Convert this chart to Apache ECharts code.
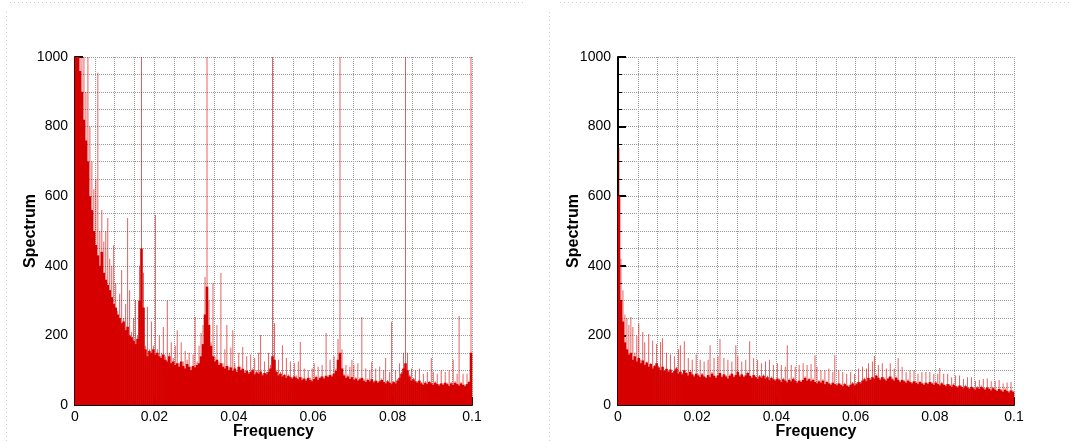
<!DOCTYPE html>
<html>
<head>
<meta charset="utf-8">
<title>Spectrum</title>
<script src="https://cdn.jsdelivr.net/npm/echarts@6/dist/echarts.min.js"></script>
<style>
  html, body { margin: 0; padding: 0; background: #fff; }
  #main { width: 1071px; height: 441px; }
</style>
</head>
<body>
<div id="main"></div>
<script>
// bin width of the spectrum (frequency step between bars)
var freqStep = 0.0005;

// y / x tick values
var yTicks = [0, 200, 400, 600, 800, 1000];
var xTicks = [0, 0.02, 0.04, 0.06, 0.08, 0.1];

// left panel: solid part of the spectrum, one value per bin
var leftBase = [
  1000,1000,960,900,820,760,700,600,560,500,460,430,400,440,380,360,345,330,310,290,
  280,260,250,235,240,215,225,200,195,185,175,190,300,450,280,160,140,155,150,160,
  145,150,140,135,145,130,125,140,120,125,115,120,110,125,112,105,118,110,100,112,
  108,115,120,140,175,260,340,230,170,140,125,130,115,120,110,105,112,100,108,98,
  105,95,110,100,104,92,98,90,95,100,88,94,90,96,85,92,88,95,105,140,
  130,95,85,90,82,86,78,84,80,76,82,78,74,80,72,76,70,78,72,68,
  75,80,72,78,82,76,84,80,86,82,90,98,130,150,105,85,78,82,75,80,
  72,76,70,74,78,70,66,72,68,74,65,70,64,68,72,66,62,68,64,60,
  66,62,70,78,90,105,120,100,82,70,74,68,64,70,62,58,64,60,66,62,
  58,64,60,56,62,58,64,60,55,62,58,64,60,56,62,58,54,60,66,150
];
// left panel: thin spikes (highest line in each bin)
var leftPeak = [
  1000,1000,1000,1000,1100,900,1100,800,700,620,650,955,500,560,470,500,537,420,400,460,
  350,270,320,388,250,290,537,330,210,250,302,200,400,1100,380,170,282,160,240,170,
  546,160,200,150,224,140,300,150,180,135,170,215,120,180,125,155,130,150,110,145,
  253,125,170,207,230,368,1100,300,180,350,140,230,125,379,120,160,230,110,165,215,
  120,100,150,110,167,100,140,95,145,105,135,100,150,201,90,125,95,150,115,1100,
  235,100,130,95,172,90,135,88,125,80,120,85,125,181,78,105,75,100,78,105,
  120,85,110,82,115,80,207,85,130,88,140,105,190,1100,160,90,115,88,110,130,
  115,80,120,78,253,75,105,76,100,124,70,105,68,110,76,100,135,72,95,239,
  70,100,75,120,95,150,1100,150,88,105,78,100,68,105,66,90,68,95,70,135,
  95,68,90,60,100,62,95,64,100,66,130,68,90,256,66,90,58,90,70,1100
];

// right panel
var rightBase = [
  600,300,240,180,160,145,150,130,140,125,135,120,128,115,122,110,118,105,112,120,
  108,100,110,98,104,95,102,92,98,105,90,96,88,100,92,85,95,88,82,90,
  85,80,88,82,78,86,80,90,84,78,85,92,80,88,82,76,84,90,80,86,
  95,82,88,80,85,92,84,78,86,80,75,82,78,84,76,80,72,78,74,70,
  76,72,66,74,70,65,72,68,75,70,64,70,66,72,78,70,74,68,72,66,
  62,68,64,70,60,66,62,58,64,60,56,62,58,54,60,56,52,58,62,56,
  60,66,62,70,74,68,78,72,80,76,84,78,72,80,74,70,76,82,74,70,
  78,72,66,72,68,64,70,66,62,68,64,60,66,62,58,64,60,66,62,58,
  64,60,56,62,58,54,60,56,52,58,54,50,56,52,48,54,50,46,52,48,
  44,50,46,52,48,44,50,46,42,48,44,40,46,42,38,44,40,36,42,38
];
var rightPeak = [
  740,420,330,260,250,230,253,224,150,200,235,130,210,180,125,204,120,185,115,175,
  112,181,192,100,150,98,145,95,140,110,160,172,92,183,95,135,100,130,86,145,
  90,130,92,125,80,130,172,95,135,82,140,190,84,135,86,130,88,125,84,172,
  140,86,125,84,130,96,183,82,135,84,130,86,120,88,125,84,130,82,115,74,
  120,76,115,78,110,172,76,115,80,110,68,115,70,120,82,115,78,118,76,143,
  110,72,100,74,100,70,105,62,95,143,60,100,62,95,64,90,56,95,66,90,
  64,105,66,110,78,105,120,76,125,141,88,115,76,120,78,105,80,120,78,105,
  82,135,70,110,72,95,74,100,66,100,68,90,70,95,62,95,64,95,66,90,
  68,90,106,66,90,58,90,60,80,62,85,54,85,56,75,58,80,50,80,52,
  70,54,72,56,75,48,76,50,68,52,70,44,72,46,62,48,65,40,66,42
];

var redSolid = '#d60000';
var redLight = 'rgba(214,0,0,0.62)';
var gridColor = '#9a9a9a';
var font = '"Liberation Sans", Arial, sans-serif';

// [freq, value] pairs, bar centred in its bin
function toPairs(vals) {
  return vals.map(function (v, i) {
    return [(i + 0.5) * freqStep, v];
  });
}

function xAxisFor(gridIndex, visible) {
  return {
    gridIndex: gridIndex,
    type: 'value',
    show: visible,
    min: xTicks[0],
    max: xTicks[xTicks.length - 1],
    interval: xTicks[1] - xTicks[0],
    name: 'Frequency',
    nameLocation: 'middle',
    nameGap: 19,
    nameMoveOverlap: false,
    nameTextStyle: { color: '#000', fontSize: 16, fontWeight: 'bold', fontFamily: font },
    axisLine: { show: true, onZero: false, lineStyle: { color: '#000', width: 2 } },
    axisTick: { show: true, inside: true, length: 8, lineStyle: { color: '#000', width: 2 } },
    minorTick: { show: true, splitNumber: 4, length: 4, lineStyle: { color: '#000', width: 1 } },
    axisLabel: { color: '#000', fontSize: 14, margin: 5, fontFamily: font },
    splitLine: { show: true, lineStyle: { color: gridColor, type: 'dotted', width: 1 } },
    minorSplitLine: { show: true, lineStyle: { color: gridColor, type: 'dotted', width: 1 } }
  };
}

function yAxisFor(gridIndex) {
  return {
    gridIndex: gridIndex,
    type: 'value',
    min: yTicks[0],
    max: yTicks[yTicks.length - 1],
    interval: yTicks[1] - yTicks[0],
    name: 'Spectrum',
    nameLocation: 'middle',
    nameGap: 36,
    nameMoveOverlap: false,
    nameTextStyle: { color: '#000', fontSize: 16, fontWeight: 'bold', fontFamily: font },
    axisLine: { show: true, onZero: false, lineStyle: { color: '#000', width: 2 } },
    axisTick: { show: true, inside: true, length: 8, lineStyle: { color: '#000', width: 2 } },
    minorTick: { show: true, splitNumber: 4, length: 4, lineStyle: { color: '#000', width: 1 } },
    axisLabel: {
      color: '#000', fontSize: 14, margin: 7, fontFamily: font,
      formatter: function (v) { return String(v); }
    },
    splitLine: { show: true, lineStyle: { color: gridColor, type: 'dotted', width: 1 } },
    minorSplitLine: { show: true, lineStyle: { color: gridColor, type: 'dotted', width: 1 } }
  };
}

function barSeries(xIdx, yIdx, vals, color, width) {
  return {
    type: 'bar',
    xAxisIndex: xIdx,
    yAxisIndex: yIdx,
    data: toPairs(vals),
    barWidth: width,
    clip: true,
    silent: true,
    animation: false,
    itemStyle: { color: color }
  };
}

// faint dotted frames of the two panels
var frameStyle = { stroke: '#cfcfcf', lineWidth: 1, lineDash: [1, 3] };

var myChart = echarts.init(document.getElementById('main'));

var option = {
  backgroundColor: '#fff',
  animation: false,
  grid: [
    { left: 75, top: 57, width: 397, height: 348, outerBoundsMode: 'none', containLabel: false },
    { left: 618, top: 57, width: 396, height: 348, outerBoundsMode: 'none', containLabel: false }
  ],
  // axes 0/1 are shown, 2/3 only hold the thin spike bars
  xAxis: [xAxisFor(0, true), xAxisFor(1, true), xAxisFor(0, false), xAxisFor(1, false)],
  yAxis: [yAxisFor(0), yAxisFor(1)],
  series: [
    barSeries(2, 0, leftPeak, redLight, 1),
    barSeries(0, 0, leftBase, redSolid, 2.6),
    barSeries(3, 1, rightPeak, redLight, 1),
    barSeries(1, 1, rightBase, redSolid, 2.6)
  ],
  graphic: [
    { type: 'line', silent: true, shape: { x1: 10, y1: 2.5, x2: 525, y2: 2.5 }, style: frameStyle },
    { type: 'line', silent: true, shape: { x1: 560, y1: 2.5, x2: 1071, y2: 2.5 }, style: frameStyle },
    { type: 'line', silent: true, shape: { x1: 6.5, y1: 12, x2: 6.5, y2: 441 }, style: frameStyle },
    { type: 'line', silent: true, shape: { x1: 549.5, y1: 12, x2: 549.5, y2: 441 }, style: frameStyle }
  ]
};

myChart.setOption(option);
</script>
</body>
</html>
